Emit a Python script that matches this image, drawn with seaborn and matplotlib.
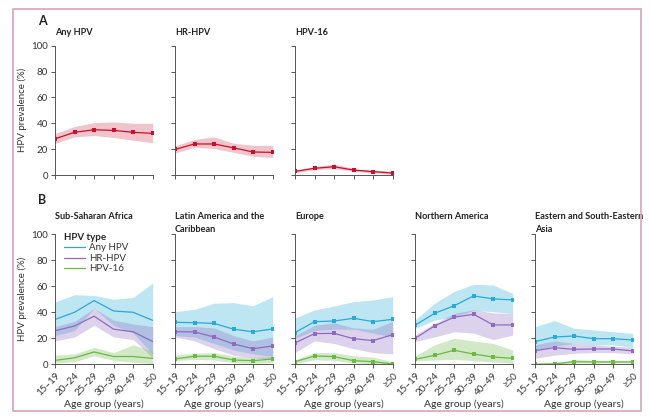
import numpy as np
import pandas as pd
import seaborn as sns
import matplotlib.pyplot as plt
from matplotlib.patches import Rectangle

sns.set_style("ticks")
plt.rcParams['font.family'] = ['Lato', 'DejaVu Sans']

ages = ["15\u201319", "20\u201324", "25\u201329", "30\u201339", "40\u201349", "\u226550"]

# Panel A: overall
a_any = [28, 33, 35, 34.5, 33, 32.2]
a_any_lo = [24.5, 29.5, 30.5, 29, 27, 25]
a_any_hi = [32, 37.5, 40.5, 41, 40, 40]
a_hr = [19.8, 24, 24, 21, 17.8, 17.5]
a_hr_lo = [17, 21.5, 20.5, 17.5, 14.5, 13.5]
a_hr_hi = [22.5, 27.5, 29.5, 24.5, 23, 23]
a_16 = [2.8, 5.2, 6.4, 3.8, 2.6, 1.5]
a_16_lo = [2, 4, 5, 2.8, 1.5, 0.6]
a_16_hi = [3.6, 6.5, 8.5, 5, 3.8, 2.8]

# Panel B: by region
ssa_any = [34.5, 40, 49, 41, 40, 33.8]
ssa_any_lo = [22, 26, 43, 30, 24, 8]
ssa_any_hi = [48, 53.5, 53, 50, 51.5, 62.5]
ssa_hr = [25.8, 29.5, 37, 27, 25, 17.5]
ssa_hr_lo = [18, 21, 30, 21, 19, 5]
ssa_hr_hi = [29, 33, 43, 34, 31, 29]
ssa_16 = [3, 5, 9.5, 6, 6, 4.5]
ssa_16_lo = [1, 2, 6.5, 3, 1.5, 0.5]
ssa_16_hi = [7, 8, 13, 9, 15, 10]

lat_any = [32.3, 32, 31.5, 27, 25, 27.2]
lat_any_lo = [22, 21, 16, 11, 8, 6]
lat_any_hi = [40.5, 42.3, 47, 47.4, 45, 52]
lat_hr = [25.1, 24.9, 21, 15.6, 12, 14.1]
lat_hr_lo = [21, 18, 12, 7, 5, 4]
lat_hr_hi = [29, 29, 28, 22, 18, 21]
lat_16 = [4.1, 6.2, 6.2, 3.3, 2.8, 4.1]
lat_16_lo = [2.8, 3.8, 3.3, 1.3, 0.8, 1.3]
lat_16_hi = [7.2, 8.5, 9, 6.4, 5.4, 5.9]

eur_any = [24.4, 32.8, 33.3, 35.4, 32.8, 34.6]
eur_any_lo = [20, 26, 27, 27, 24, 21]
eur_any_hi = [35.6, 41.8, 44.9, 48.2, 49.5, 52]
eur_hr = [16.4, 23.6, 23.8, 19.7, 18.2, 22.8]
eur_hr_lo = [9, 18, 16, 12, 9, 8]
eur_hr_hi = [22, 30, 32, 28, 27, 33]
eur_16 = [2, 6.4, 5.9, 2.8, 2, 0.3]
eur_16_lo = [0.5, 3.5, 3, 1, 0.5, 0]
eur_16_hi = [3.5, 9, 9, 6.5, 5.5, 2]

nam_any = [30, 39.2, 45, 52.6, 50.3, 49.5]
nam_any_lo = [27.5, 34, 36.5, 41.5, 40.5, 39]
nam_any_hi = [34, 47, 56, 61.5, 61, 54.5]
nam_hr = [20, 29.5, 36.2, 38.5, 30.3, 30.3]
nam_hr_lo = [17.5, 21, 25, 24, 19, 22.5]
nam_hr_hi = [22.5, 31.5, 39, 42, 39.5, 39]
nam_16 = [3.8, 6.9, 10.8, 7.9, 5.6, 4.6]
nam_16_lo = [2.8, 3.3, 3.8, 2.8, 1.8, 0.8]
nam_16_hi = [6.4, 15, 20, 18, 16, 11]

eas_any = [17.4, 21, 21.8, 19.7, 19.7, 18.7]
eas_any_lo = [11, 14, 16, 15, 15, 13]
eas_any_hi = [29, 33.6, 27.7, 26.4, 25, 23.8]
eas_hr = [10.5, 12.8, 11.5, 11.8, 11.8, 10.3]
eas_hr_lo = [4.6, 7, 8.5, 9, 9, 8]
eas_hr_hi = [15, 18, 16, 15, 14, 13]
eas_16 = [0.1, 0.3, 2, 1.8, 1.8, 1.8]
eas_16_lo = [0, 0, 1, 1, 1, 1]
eas_16_hi = [0.5, 1, 3.8, 3, 3, 3]

top_titles = ["Any HPV", "HR-HPV", "HPV-16"]
top_series = [(a_any, a_any_lo, a_any_hi), (a_hr, a_hr_lo, a_hr_hi), (a_16, a_16_lo, a_16_hi)]

region_titles = ["Sub-Saharan Africa", "Latin America and the\nCaribbean", "Europe",
                 "Northern America", "Eastern and South-Eastern\nAsia"]
region_series = [
    [(ssa_any, ssa_any_lo, ssa_any_hi), (ssa_hr, ssa_hr_lo, ssa_hr_hi), (ssa_16, ssa_16_lo, ssa_16_hi)],
    [(lat_any, lat_any_lo, lat_any_hi), (lat_hr, lat_hr_lo, lat_hr_hi), (lat_16, lat_16_lo, lat_16_hi)],
    [(eur_any, eur_any_lo, eur_any_hi), (eur_hr, eur_hr_lo, eur_hr_hi), (eur_16, eur_16_lo, eur_16_hi)],
    [(nam_any, nam_any_lo, nam_any_hi), (nam_hr, nam_hr_lo, nam_hr_hi), (nam_16, nam_16_lo, nam_16_hi)],
    [(eas_any, eas_any_lo, eas_any_hi), (eas_hr, eas_hr_lo, eas_hr_hi), (eas_16, eas_16_lo, eas_16_hi)],
]
type_names = ["Any HPV", "HR-HPV", "HPV-16"]
type_colors = ["#29a9d6", "#8e6bbf", "#6bb846"]
red = "#c8102e"

W, H = 650, 417
fig = plt.figure(figsize=(W / 100, H / 100), dpi=100)
fig.patches.append(Rectangle((13 / W, 1 - 410.5 / H), 628 / W, 402 / H, transform=fig.transFigure,
                             fill=False, edgecolor="#d8a3bb", linewidth=1.2))

grey = "#555555"
txt = "#333333"


def style_axis(ax, first, bottom_row):
    ax.set_xlim(0, 5)
    ax.set_ylim(0, 100)
    ax.set_yticks(range(0, 101, 20))
    ax.set_xticks(range(6))
    sns.despine(ax=ax)
    for s in ["left", "bottom"]:
        ax.spines[s].set_color(grey)
        ax.spines[s].set_linewidth(0.7)
    ax.tick_params(colors=grey, labelcolor=txt, length=3, width=0.7, labelsize=7, pad=2)
    if first:
        ax.set_ylabel("HPV prevalence (%)", fontsize=7, color=txt, labelpad=3)
    else:
        ax.set_yticklabels([])
        ax.set_ylabel("")
    if bottom_row:
        ax.set_xticklabels(ages, rotation=45, ha="right", rotation_mode="anchor", fontsize=7)
        ax.set_xlabel("Age group (years)", fontsize=7.5, color=txt, labelpad=1)
    else:
        ax.set_xticklabels([])
        ax.set_xlabel("")


def draw(ax, est, lo, hi, color, label=None, alpha=0.3):
    x = np.arange(len(est))
    ax.fill_between(x, lo, hi, color=color, alpha=alpha, linewidth=0)
    df = pd.DataFrame({"x": x, "y": est})
    sns.lineplot(data=df, x="x", y="y", ax=ax, color=color, linewidth=0.9, marker="s",
                 markersize=2.8, markeredgewidth=0, label=label, legend=False)


lefts = [55, 175, 295, 415, 535]
pw = 97.7

# Panel A
for i, (title, (est, lo, hi)) in enumerate(zip(top_titles, top_series)):
    ax = fig.add_axes([lefts[i] / W, 1 - 175 / H, pw / W, 129.3 / H])
    draw(ax, est, lo, hi, red, alpha=0.25)
    style_axis(ax, i == 0, False)
    ax.text(0, 1.1, title, transform=ax.transAxes, fontsize=6.6, fontweight="bold",
            color="#222222", va="center", ha="left")

# Panel B
for i, (title, series) in enumerate(zip(region_titles, region_series)):
    ax = fig.add_axes([lefts[i] / W, 1 - 364.3 / H, pw / W, 130 / H])
    for (est, lo, hi), name, col in zip(series, type_names, type_colors):
        draw(ax, est, lo, hi, col, label=name)
    style_axis(ax, i == 0, True)
    ax.text(0, 1.17, title, transform=ax.transAxes, fontsize=6.6, fontweight="bold",
            color="#222222", va="top", ha="left", linespacing=1.5)
    if i == 0:
        handles, labels = ax.get_legend_handles_labels()
        for h in handles:
            h.set_marker("")
        leg = ax.legend(handles, labels, title="HPV type", loc="upper left",
                        bbox_to_anchor=(0.05, 1.04), frameon=False, fontsize=7,
                        handlelength=2.2, handletextpad=0.4, labelspacing=0.15,
                        borderaxespad=0)
        leg.get_title().set_fontweight("bold")
        leg.get_title().set_fontsize(7)
        leg._legend_box.align = "left"
        for t in leg.get_texts():
            t.set_color(txt)

fig.text(38 / W, 1 - 21 / H, "A", fontsize=9, fontweight="bold", color="#222222", va="center")
fig.text(38 / W, 1 - 200 / H, "B", fontsize=9, fontweight="bold", color="#222222", va="center")

fig.savefig("out.png", dpi=100)
